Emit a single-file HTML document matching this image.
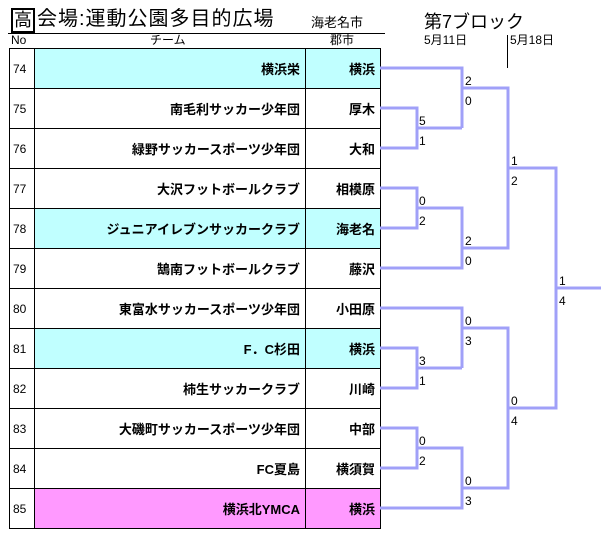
<!DOCTYPE html>
<html><head><meta charset="utf-8"><style>
body{margin:0;width:605px;height:556px;background:#fff;position:relative;overflow:hidden;font-family:"Liberation Sans","Noto Sans CJK JP",sans-serif;color:#000}
.a{position:absolute;white-space:nowrap}
table{position:absolute;left:9px;top:48px;border-collapse:collapse;table-layout:fixed;width:371px}
td{border:1px solid #000;height:39px;padding:0;font-size:13px;overflow:hidden;white-space:nowrap}
td.n{text-align:left;padding-left:3px;font-weight:normal;font-size:12px}
td.t{text-align:right;padding-right:5px;font-weight:bold}
td.c{text-align:right;padding-right:5px;font-weight:bold}
.cy td.t,.cy td.c{background:#c0ffff}
.pk td.t,.pk td.c{background:#ff99ff}
svg{position:absolute;left:0;top:0}
.h{font-size:12px;line-height:13px;top:34px}
</style></head><body>
<div class="a" style="left:11px;top:8px;width:20px;height:21px;border:2px solid #000;font-size:18px;line-height:21px;text-align:center">高</div>
<div class="a" style="left:37px;top:6px;font-size:20px;line-height:26px;letter-spacing:1px">会場:運動公園多目的広場</div>
<div class="a" style="left:311px;top:12px;font-size:13px">海老名市</div>
<div class="a" style="left:8px;top:33px;width:377px;height:1px;background:#000"></div>
<div class="a" style="left:424px;top:8px;font-size:18px">第7ブロック</div>
<div class="a h" style="left:11px">No</div>
<div class="a h" style="left:150px">チーム</div>
<div class="a h" style="left:330px">郡市</div>
<div class="a h" style="left:424px">5月11日</div>
<div class="a h" style="left:510px">5月18日</div>
<div class="a" style="left:507px;top:35px;width:1px;height:33px;background:#000"></div>
<table>
<colgroup><col style="width:25px"><col style="width:271px"><col style="width:75px"></colgroup>
<tr class="cy"><td class="n">74</td><td class="t">横浜栄</td><td class="c">横浜</td></tr>
<tr><td class="n">75</td><td class="t">南毛利サッカー少年団</td><td class="c">厚木</td></tr>
<tr><td class="n">76</td><td class="t">緑野サッカースポーツ少年団</td><td class="c">大和</td></tr>
<tr><td class="n">77</td><td class="t">大沢フットボールクラブ</td><td class="c">相模原</td></tr>
<tr class="cy"><td class="n">78</td><td class="t">ジュニアイレブンサッカークラブ</td><td class="c">海老名</td></tr>
<tr><td class="n">79</td><td class="t">鵠南フットボールクラブ</td><td class="c">藤沢</td></tr>
<tr><td class="n">80</td><td class="t">東富水サッカースポーツ少年団</td><td class="c">小田原</td></tr>
<tr class="cy"><td class="n">81</td><td class="t">F．C杉田</td><td class="c">横浜</td></tr>
<tr><td class="n">82</td><td class="t">柿生サッカークラブ</td><td class="c">川崎</td></tr>
<tr><td class="n">83</td><td class="t">大磯町サッカースポーツ少年団</td><td class="c">中部</td></tr>
<tr><td class="n">84</td><td class="t">FC夏島</td><td class="c">横須賀</td></tr>
<tr class="pk"><td class="n">85</td><td class="t">横浜北YMCA</td><td class="c">横浜</td></tr>
</table>
<svg width="605" height="556" font-family="Liberation Sans,sans-serif" font-size="12">
<g fill="none" stroke="#a0a0f8" stroke-width="3">
<polyline points="380,68 462,68 462,128"/>
<polyline points="380,108 417,108 417,148 380,148"/>
<line x1="417" y1="128" x2="462" y2="128"/>
<polyline points="462,88 508,88 508,248 462,248"/>
<polyline points="380,188 417,188 417,228 380,228"/>
<polyline points="417,208 462,208 462,268 380,268"/>
<polyline points="508,168 556,168 556,408 508,408"/>
<line x1="556" y1="288" x2="601" y2="288"/>
<polyline points="380,308 462,308 462,368"/>
<polyline points="380,348 417,348 417,388 380,388"/>
<line x1="417" y1="368" x2="462" y2="368"/>
<polyline points="462,328 508,328 508,488 462,488"/>
<polyline points="380,428 417,428 417,468 380,468"/>
<polyline points="417,448 462,448 462,508 380,508"/>
</g>
<g fill="#000">
<text x="465" y="85">2</text><text x="465" y="105">0</text>
<text x="419" y="125">5</text><text x="419" y="145">1</text>
<text x="419" y="205">0</text><text x="419" y="225">2</text>
<text x="465" y="245">2</text><text x="465" y="265">0</text>
<text x="511" y="165">1</text><text x="511" y="185">2</text>
<text x="559" y="285">1</text><text x="559" y="305">4</text>
<text x="465" y="325">0</text><text x="465" y="345">3</text>
<text x="419" y="365">3</text><text x="419" y="385">1</text>
<text x="511" y="405">0</text><text x="511" y="425">4</text>
<text x="419" y="445">0</text><text x="419" y="465">2</text>
<text x="465" y="485">0</text><text x="465" y="505">3</text>
</g>
</svg>
</body></html>
